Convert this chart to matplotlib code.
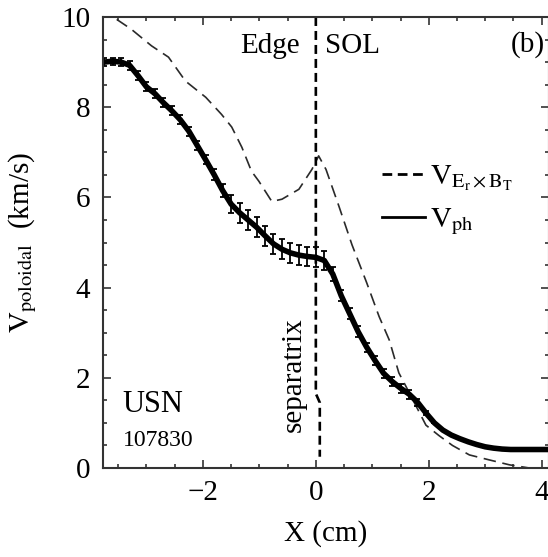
import numpy as np
import matplotlib
matplotlib.use("Agg")
import matplotlib.pyplot as plt
from matplotlib.lines import Line2D
from matplotlib.ticker import MultipleLocator

plt.rcParams['font.family'] = ['Liberation Serif', 'DejaVu Serif']
plt.rcParams['mathtext.fontset'] = 'stix'

# E_r x B_T poloidal velocity (dashed curve)
x_exb = [-3.8, -3.59, -3.27, -2.91, -2.61, -2.31, -1.95, -1.67, -1.49, -1.31,
         -1.14, -1.01, -0.78, -0.60, -0.30, -0.07, 0.05, 0.18, 0.41, 0.64,
         0.90, 1.12, 1.30, 1.47, 1.60, 1.95, 2.18, 2.42, 2.72, 3.07,
         3.43, 3.78, 4.15]
v_exb = [10.2, 10.0, 9.73, 9.36, 9.11, 8.58, 8.22, 7.84, 7.56, 7.11,
         6.58, 6.36, 5.91, 5.96, 6.18, 6.62, 6.92, 6.62, 5.80, 4.95,
         4.11, 3.36, 2.84, 2.11, 1.80, 0.95, 0.72, 0.50, 0.29, 0.18,
         0.07, 0.00, -0.05]

# phase velocity from the probe array (solid curve with error bars)
x_ph = [-3.75, -3.60, -3.45, -3.30, -3.15, -3.00, -2.85, -2.70, -2.55, -2.40,
        -2.25, -2.10, -1.95, -1.80, -1.65, -1.50, -1.35, -1.20, -1.05, -0.90,
        -0.75, -0.60, -0.45, -0.30, -0.15, 0.00, 0.15, 0.30, 0.45, 0.60,
        0.75, 0.90, 1.05, 1.20, 1.35, 1.50, 1.65, 1.80, 1.95, 2.10,
        2.25, 2.40, 2.55, 2.70, 2.85, 3.00, 3.15, 3.30, 3.45, 3.60,
        3.80, 4.00, 4.20]
v_ph = [9.00, 9.02, 9.00, 8.93, 8.70, 8.45, 8.30, 8.10, 7.92, 7.72,
        7.47, 7.15, 6.83, 6.50, 6.15, 5.85, 5.66, 5.50, 5.34, 5.15,
        4.97, 4.85, 4.77, 4.72, 4.69, 4.67, 4.60, 4.30, 3.82, 3.42,
        3.02, 2.68, 2.38, 2.10, 1.92, 1.77, 1.64, 1.46, 1.22, 1.00,
        0.84, 0.73, 0.65, 0.58, 0.52, 0.47, 0.44, 0.42, 0.41, 0.41,
        0.41, 0.41, 0.41]
v_ph_err = [0.08, 0.08, 0.08, 0.10, 0.10, 0.10, 0.10, 0.10, 0.10, 0.10,
            0.10, 0.10, 0.10, 0.12, 0.15, 0.20, 0.22, 0.22, 0.22, 0.22,
            0.22, 0.22, 0.22, 0.22, 0.22, 0.22, 0.22, 0.15, 0.12, 0.12,
            0.12, 0.10, 0.10, 0.10, 0.10, 0.10, 0.10, 0.08, 0.05, 0.0,
            0.0, 0.0, 0.0, 0.0, 0.0, 0.0, 0.0, 0.0, 0.0, 0.0,
            0.0, 0.0, 0.0]

# separatrix position (slightly kinked trace)
x_sep = [0.0, 0.0, 0.07, 0.07]
y_sep = [10.0, 1.65, 1.45, 0.25]

fig = plt.figure(figsize=(5.48, 5.57), dpi=100)
ax = fig.add_axes([103/548, 89/557, 446/548, 451/557])

ax.plot(x_exb, v_exb, color='#2a2a2a', lw=1.2, dashes=(7.5, 4))
ax.errorbar(x_ph, v_ph, yerr=v_ph_err, color='black', lw=4.0,
            ecolor='black', elinewidth=1.3, capsize=2.5, capthick=1.3)
ax.plot(x_sep, y_sep, color='black', lw=1.9, dashes=(3.4, 1.9))

ax.set_xlim(-3.77, 4.13)
ax.set_ylim(0, 10)
ax.set_xticks([-2, 0, 2, 4])
ax.set_yticks([0, 2, 4, 6, 8, 10])
ax.xaxis.set_minor_locator(MultipleLocator(0.5))
ax.yaxis.set_minor_locator(MultipleLocator(0.5))
ax.tick_params(which='both', direction='in', top=True, right=True,
               labelsize=21, color='#333333', width=1.2)
ax.tick_params(which='major', length=5.5, pad=9)
ax.tick_params(which='minor', length=3)
for sp in ax.spines.values():
    sp.set_linewidth(1.5)
    sp.set_color('#333333')

ax.set_xlabel('X (cm)', fontsize=21, labelpad=10)
ax.set_ylabel(r'$\mathrm{V_{poloidal}}$  (km/s)', fontsize=21, labelpad=16)

ax.text(-0.28, 9.35, 'Edge', fontsize=21, ha='right', va='center')
ax.text(0.16, 9.35, 'SOL', fontsize=21, ha='left', va='center')
ax.text(4.05, 9.4, '(b)', fontsize=21, ha='right', va='center')
ax.text(-0.39, 2.07, 'separatrix', fontsize=21, rotation=90,
        ha='center', va='center')
ax.text(-3.42, 1.4, 'USN', fontsize=22, ha='left', va='center')
ax.text(-3.42, 0.62, '107830', fontsize=17, ha='left', va='center')

handles = [Line2D([], [], color='black', lw=2.0, dashes=(3.5, 2.0)),
           Line2D([], [], color='black', lw=2.0)]
labels = [r'$\mathrm{V_{E_r \times B_T}}$', r'$\mathrm{V_{ph}}$']
ax.legend(handles, labels, loc='center left', bbox_to_anchor=(0.625, 0.594),
          frameon=False, fontsize=21, handlelength=1.5, handletextpad=0.15,
          labelspacing=0.45, borderpad=0, borderaxespad=0)

fig.savefig('out.png', dpi=100)
